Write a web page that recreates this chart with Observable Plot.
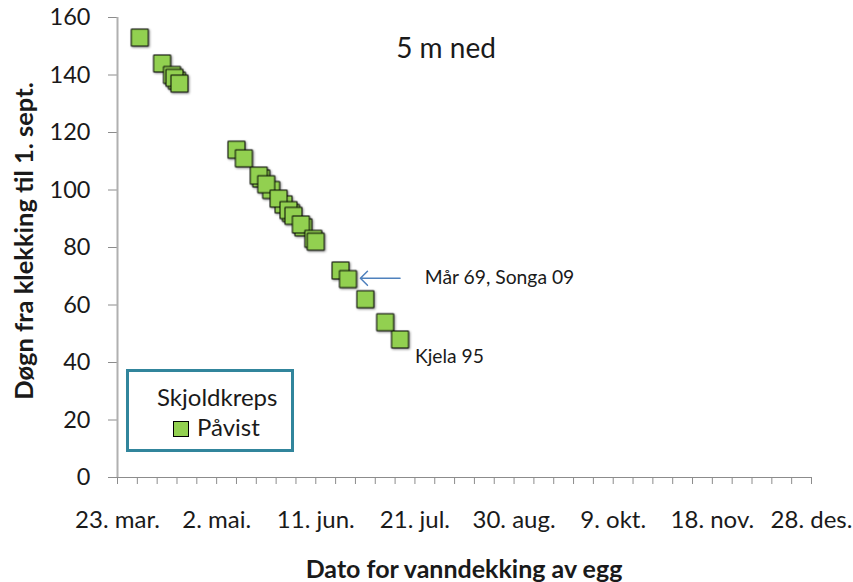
<!DOCTYPE html>
<html><head><meta charset="utf-8">
<script src="https://cdn.jsdelivr.net/npm/d3@7"></script>
<script src="https://cdn.jsdelivr.net/npm/@observablehq/plot@0.6"></script>
<style>
body{margin:0;background:#fff;}
#wrap{position:relative;width:853px;height:582px;font-family:Lato,"Open Sans",sans-serif;color:#1a1a1a;}
#wrap svg{position:absolute;left:0;top:0;}
.ov{position:absolute;white-space:nowrap;transform:translate(-50%,-50%);line-height:1;}
#title{left:446px;top:47px;font-size:28px;}
#xtitle{left:464px;top:568px;font-size:25px;font-weight:bold;}
#ytitle{left:24px;top:241px;font-size:25.5px;font-weight:bold;transform:translate(-50%,-50%) rotate(-90deg);}
#legend{position:absolute;left:126px;top:369px;width:168px;height:83px;box-sizing:border-box;border:3px solid #31859C;background:#fff;}
#legend .l1{position:absolute;left:28px;top:13px;font-size:24px;line-height:1;}
#legend .l2{position:absolute;left:44px;top:43px;font-size:24px;line-height:1;}
#legend .sw{display:inline-block;width:14px;height:14px;background:#92D050;border:1px solid #000;margin-right:8px;vertical-align:-1px;}
</style></head><body>
<div id="wrap">
  <div class="ov" id="title">5 m ned</div>
  <div class="ov" id="xtitle">Dato for vanndekking av egg</div>
  <div class="ov" id="ytitle">Døgn fra klekking til 1. sept.</div>
  <div id="legend"><div class="l1">Skjoldkreps</div><div class="l2"><span class="sw"></span>Påvist</div></div>
</div>
<script>
const year = 2010;
// Dates of water covering (month-day) and days from hatching to 1 Sept
const dates = ["04-01","04-10","04-14","04-16","04-15","04-17","05-10","05-13","05-20","05-19","05-24","05-22","05-29","05-27","06-01","05-31","06-02","06-06","06-05","06-10","06-11","06-21","06-24","07-01","07-09","07-15"];
const daysToSept = [153,144,140,138,139,137,114,111,104,105,100,102,95,97,92,93,91,87,88,83,82,72,69,62,54,48];
const tickLabels = ["23. mar.","2. mai.","11. jun.","21. jul.","30. aug.","9. okt.","18. nov.","28. des."];
const tickDates = ["03-23","05-02","06-11","07-21","08-30","10-09","11-18","12-28"];
const yTicks = [0,20,40,60,80,100,120,140,160];
const noteTexts = ["Mår 69, Songa 09","Kjela 95"];
const noteDates = ["07-25","07-21"];
const noteValues = [69.3,42];
const arrowFrom = {date:"07-15", value:69.3};
const arrowTo = {date:"06-29", value:69.3};

const parse = s => new Date(`${year}-${s}T00:00:00Z`);
const data = dates.map((d,i)=>({date:parse(d), v:daysToSept[i]}));
const xStart = parse(tickDates[0]), xEnd = parse(tickDates[tickDates.length-1]);
const minorTicks = d3.utcDay.range(xStart, d3.utcDay.offset(xEnd,1), 8);
const labelMap = new Map(tickDates.map((d,i)=>[+parse(d), tickLabels[i]]));
const notes = noteTexts.map((t,i)=>({text:t, date:parse(noteDates[i]), v:noteValues[i]}));

const chart = Plot.plot({
  width:853, height:582,
  marginLeft:117, marginRight:42, marginTop:17, marginBottom:105,
  style:{fontFamily:'Lato,"Open Sans",sans-serif', color:"#1a1a1a", background:"transparent", overflow:"visible"},
  x:{type:"utc", domain:[xStart,xEnd]},
  y:{domain:[0,160]},
  marks:[
    Plot.axisY(yTicks, {tickSize:9, tickPadding:18, fontSize:23.5, label:null, stroke:"#8c8c8c", fill:"#1a1a1a"}),
    Plot.axisX(minorTicks, {tickSize:7, tickFormat:()=>"", label:null, stroke:"#8c8c8c"}),
    Plot.axisX(tickDates.map(parse), {tickSize:0, tickPadding:33, fontSize:24, label:null, tickFormat:d=>labelMap.get(+d), fill:"#1a1a1a"}),
    Plot.ruleY([0], {stroke:"#8c8c8c"}),
    Plot.ruleX([xStart], {stroke:"#b0b0b0", strokeWidth:2}),
    Plot.arrow([{x1:parse(arrowFrom.date), y1:arrowFrom.value, x2:parse(arrowTo.date), y2:arrowTo.value}],
      {x1:"x1", y1:"y1", x2:"x2", y2:"y2", stroke:"#4F81BD", strokeWidth:1.5, headLength:10, headAngle:90}),
    Plot.text(notes, {x:"date", y:"v", text:"text", textAnchor:"start", fontSize:19.3, fill:"#1a1a1a"}),
    Plot.dot(data, {x:"date", y:"v", symbol:"square", r:9.6, fill:"#92D050", stroke:"#000", strokeWidth:1})
  ]
});
const dots = chart.querySelector('g[aria-label="dot"]');
if (dots) dots.setAttribute("style","filter:drop-shadow(1px 1px 1px rgba(0,0,0,0.45))");
document.getElementById("wrap").prepend(chart);
</script>
</body></html>
